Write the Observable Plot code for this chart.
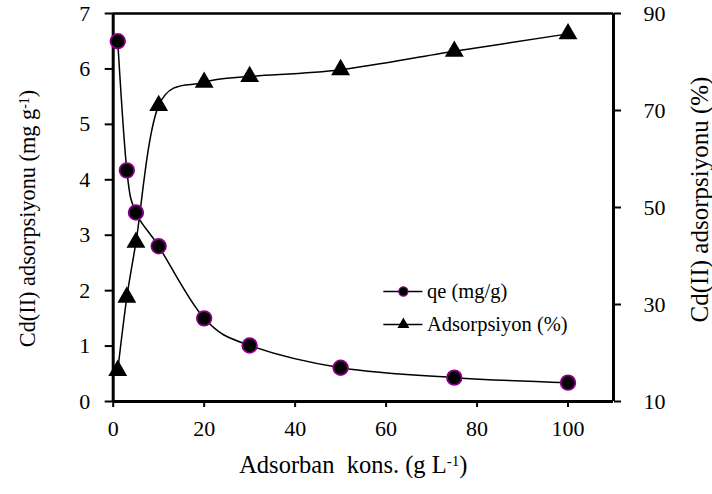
<!DOCTYPE html>
<html>
<head>
<meta charset="utf-8">
<script src="https://cdn.jsdelivr.net/npm/d3@7"></script>
<script src="https://cdn.jsdelivr.net/npm/@observablehq/plot@0.6"></script>
<style>
  html, body { margin: 0; padding: 0; background: white; }
  #chart { width: 712px; height: 494px; }
  #chart svg, #chart svg text, #chart svg tspan { font-family: "Liberation Serif", "Times New Roman", Tinos, "DejaVu Serif", serif !important; }
</style>
</head>
<body>
<div id="chart"></div>
<script>
// Data
const doses = [1, 3, 5, 10, 20, 30, 50, 75, 100];          // Adsorban kons. (g L-1)
const qeValues = [6.5, 4.17, 3.41, 2.8, 1.5, 1.01, 0.61, 0.43, 0.34]; // qe (mg/g), left axis
const adsValues = [16.4, 31.5, 42.8, 71.0, 75.8, 77.0, 78.4, 82.2, 85.8]; // Adsorpsiyon (%), right axis
const xTicks = [0, 20, 40, 60, 80, 100];
const leftTicks = [0, 1, 2, 3, 4, 5, 6, 7];
const rightTicks = [10, 30, 50, 70, 90];
const legendLabels = ["qe (mg/g)", "Adsorpsiyon (%)"];

// right axis (10..90) mapped onto left scale (0..7)
const R0 = 10, R1 = 90, L0 = 0, L1 = 7;
const toLeft = v => L0 + (v - R0) / (R1 - R0) * (L1 - L0);
const toRight = v => R0 + (v - L0) / (L1 - L0) * (R1 - R0);

const rows = doses.map((d, i) => ({x: d, qe: qeValues[i], ads: toLeft(adsValues[i])}));

// legend rows (placed in data space inside the frame)
const legend = [
  {label: legendLabels[0], y: 1.985, sym: "circle"},
  {label: legendLabels[1], y: 1.39, sym: "triangle"}
];
const legX1 = 59.5, legX2 = 68.1, legXm = 63.8, legXt = 69.0;

const font = "'Liberation Serif', 'Times New Roman', Tinos, 'DejaVu Serif', serif";

const chart = Plot.plot({
  width: 712,
  height: 494,
  marginLeft: 112.7,
  marginRight: 99,
  marginTop: 13,
  marginBottom: 93,
  style: {fontFamily: font, fontSize: "22px", color: "black", background: "white"},
  x: {domain: [0, 110]},
  y: {domain: [L0, L1]},
  marks: [
    // axes
    Plot.axisY(leftTicks, {anchor: "left", tickSize: 8, tickPadding: 15, strokeWidth: 2, fontSize: 22, fontFamily: font, label: null, tickFormat: d => String(d)}),
    Plot.axisY(rightTicks.map(toLeft), {anchor: "right", tickSize: 7, tickPadding: 23, strokeWidth: 2, fontSize: 22, fontFamily: font, label: null, tickFormat: d => String(Math.round(toRight(d)))}),
    Plot.axisX(xTicks, {anchor: "bottom", tickSize: 6, tickPadding: 13, strokeWidth: 2, fontSize: 22, fontFamily: font, label: null, tickFormat: d => String(d)}),
    // frame
    Plot.ruleX([0, 110], {stroke: "black", strokeWidth: 3}),
    Plot.ruleY([L0], {stroke: "black", strokeWidth: 3}),
    Plot.ruleY([L1], {stroke: "black", strokeWidth: 2.5}),
    // series lines
    Plot.line(rows, {x: "x", y: "qe", curve: "cardinal", tension: 0, stroke: "black", strokeWidth: 1.5}),
    Plot.line(rows, {x: "x", y: "ads", curve: "cardinal", tension: 0, stroke: "black", strokeWidth: 1.5}),
    // markers
    Plot.dot(rows, {x: "x", y: "ads", symbol: "triangle", r: 7, fill: "black", stroke: "none"}),
    Plot.dot(rows, {x: "x", y: "qe", symbol: "circle", r: 7.3, fill: "black", stroke: "#8b008b", strokeWidth: 1.8}),
    // legend
    Plot.ruleY(legend, {y: "y", x1: legX1, x2: legX2, stroke: "black", strokeWidth: 1.5}),
    Plot.dot(legend.filter(d => d.sym === "circle"), {x: legXm, y: "y", symbol: "circle", r: 4.6, fill: "black", stroke: "#8b008b", strokeWidth: 1.2}),
    Plot.dot(legend.filter(d => d.sym === "triangle"), {x: legXm, y: "y", symbol: "triangle", r: 4.4, fill: "black", stroke: "none"}),
    Plot.text(legend, {x: legXt, y: "y", text: "label", textAnchor: "start", fontSize: 20.5, fontFamily: font, fill: "black"}),
    // axis titles
    Plot.text(["Cd(II) adsorpsiyonu (mg g⁻¹)"], {frameAnchor: "left", textAnchor: "middle", rotate: -90, dx: -85, dy: 11, fontSize: 22.3, fontFamily: font, fill: "black"}),
    Plot.text(["Cd(II) adsorpsiyonu (%)"], {frameAnchor: "right", textAnchor: "middle", rotate: -90, dx: 86, dy: -8, fontSize: 25, fontFamily: font, fill: "black"}),
    Plot.text(["Adsorban  kons. (g L⁻¹)"], {frameAnchor: "bottom", textAnchor: "middle", dx: -10, dy: 71, fontSize: 24.5, fontFamily: font, fill: "black"})
  ]
});

// render superscripts as raised small text
d3.select(chart).selectAll("text").each(function() {
  const t = this.textContent;
  if (t.includes("⁻¹")) {
    const parts = t.split("⁻¹");
    const sel = d3.select(this);
    sel.text(null);
    sel.append("tspan").text(parts[0]);
    sel.append("tspan").attr("dy", "-0.45em").attr("font-size", "0.62em").text("-1");
    sel.append("tspan").attr("dy", "0.28em").text(parts[1]);
  }
});

document.getElementById("chart").appendChild(chart);
</script>
</body>
</html>
